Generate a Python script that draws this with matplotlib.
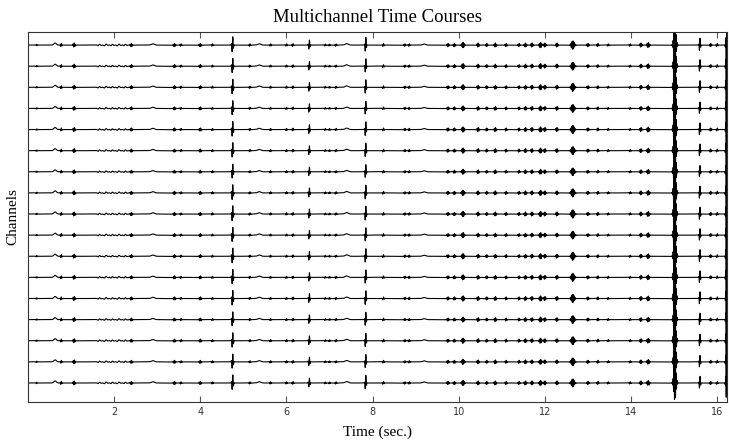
import numpy as np
import matplotlib.pyplot as plt

# time base
fs = 1000
t_end = 16.23
n_channels = 17

# events: time (s), amplitude (channel spacing units), width (s), freq (Hz, 0 = hump)
ev_time = [0.2, 0.63, 0.77, 1.07, 1.65, 1.8, 1.95, 2.1, 2.25, 2.4, 2.9, 3.4, 3.55,
           4.0, 4.28, 4.75, 5.15, 5.37, 5.63, 6.0, 6.15, 6.53, 6.9, 7.0, 7.15, 7.4,
           7.84, 8.25, 8.75, 8.85, 9.2, 9.75, 9.9, 10.1, 10.45, 10.65, 10.85, 11.1,
           11.4, 11.55, 11.7, 11.9, 12.0, 12.28, 12.65, 13.0, 13.23, 13.47, 13.98,
           14.23, 14.4, 15.02, 15.6, 15.85, 16.0, 16.22]
ev_amp = [0.04, 0.1, 0.08, 0.1, 0.04, 0.05, 0.04, 0.05, 0.04, 0.08, 0.06, 0.08, 0.06,
          0.08, 0.06, 0.42, 0.06, 0.06, 0.06, 0.06, 0.07, 0.25, 0.05, 0.05, 0.06, 0.07,
          0.4, 0.08, 0.06, 0.06, 0.05, 0.08, 0.08, 0.13, 0.1, 0.08, 0.1, 0.08,
          0.08, 0.1, 0.1, 0.13, 0.1, 0.1, 0.2, 0.08, 0.08, 0.06, 0.06,
          0.1, 0.12, 0.85, 0.35, 0.08, 0.08, 0.8]
ev_width = [0.02, 0.04, 0.02, 0.03, 0.05, 0.05, 0.05, 0.05, 0.05, 0.03, 0.05, 0.03, 0.025,
            0.03, 0.025, 0.02, 0.025, 0.05, 0.025, 0.025, 0.025, 0.02, 0.025, 0.025, 0.025, 0.05,
            0.018, 0.025, 0.025, 0.025, 0.05, 0.03, 0.03, 0.035, 0.03, 0.025, 0.03, 0.025,
            0.025, 0.03, 0.03, 0.035, 0.03, 0.03, 0.045, 0.03, 0.025, 0.025, 0.025,
            0.03, 0.035, 0.035, 0.018, 0.025, 0.025, 0.02]
ev_freq = [30, 0, 35, 35, 12, 10, 12, 10, 12, 35, 0, 35, 30,
           35, 30, 30, 30, 0, 30, 30, 30, 30, 30, 30, 30, 0,
           30, 25, 35, 35, 0, 35, 35, 40, 35, 35, 35, 35,
           35, 35, 35, 35, 35, 35, 40, 35, 30, 30, 30,
           35, 35, 45, 30, 35, 25, 45]

# per channel gain (top to bottom)
ch_gain = [1.0, 0.95, 0.97, 0.93, 0.98, 0.96, 0.92, 0.99, 1.0, 0.94,
           0.97, 0.95, 0.98, 0.93, 0.96, 0.94, 0.97]

t = np.arange(0, t_end, 1 / fs)
base = np.zeros_like(t)
for t0, a, w, f in zip(ev_time, ev_amp, ev_width, ev_freq):
    env = a * np.exp(-((t - t0) / w) ** 2)
    if f == 0:
        base += env
    else:
        base += env * np.sin(2 * np.pi * f * (t - t0) + 0.6)

fig = plt.figure(figsize=(7.29, 4.42), dpi=100)
ax = fig.add_axes([0.0384, 0.0905, 0.9588, 0.8371])

for i, g in enumerate(ch_gain):
    ax.plot(t, base * g - i, color='black', lw=0.8)

ax.set_xlim(0, t_end)
ax.set_ylim(-(n_channels - 1) - 0.9, 0.62)
ax.set_yticks([])
ax.set_xticks([2, 4, 6, 8, 10, 12, 14, 16])
ax.tick_params(axis='x', direction='in', top=True, length=4, labelsize=7,
               color='#555555', labelcolor='#333333')
for s in ax.spines.values():
    s.set_color('#333333')
    s.set_linewidth(0.8)

ax.set_title('Multichannel Time Courses', family='Liberation Serif', fontsize=13.5, pad=7)
ax.set_xlabel('Time (sec.)', family='Liberation Serif', fontsize=11, labelpad=6)
ax.set_ylabel('Channels', family='Liberation Serif', fontsize=11, labelpad=6)

fig.savefig('out.png', dpi=100)
